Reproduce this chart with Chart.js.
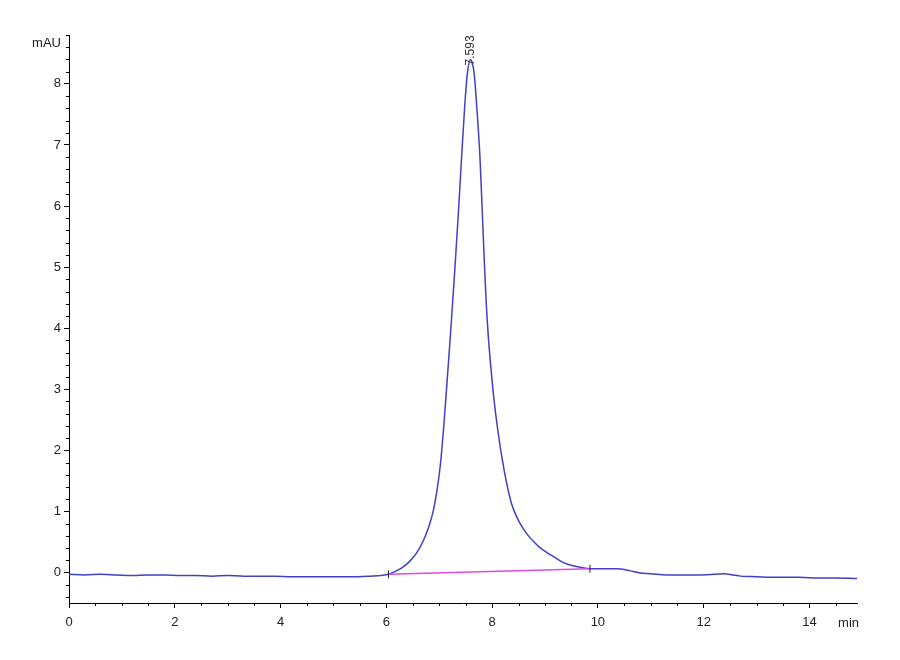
<!DOCTYPE html>
<html>
<head>
<meta charset="utf-8">
<title>Chromatogram</title>
<script src="https://cdn.jsdelivr.net/npm/chart.js@4.4.1/dist/chart.umd.min.js"></script>
<style>
    html, body { margin: 0; padding: 0; background: #fff; }
    #wrap { width: 900px; height: 660px; position: relative; }
</style>
</head>
<body>
<div id="wrap"><canvas id="chromChart"></canvas></div>
<script>
// Signal trace (min, mAU)
const times = [0.0, 0.3, 0.6, 0.9, 1.2, 1.5, 1.8, 2.1, 2.4, 2.7, 3.0, 3.3, 3.6, 3.9, 4.2, 4.5, 4.8, 5.1, 5.4, 5.7, 5.9,
    6.03, 6.15, 6.30, 6.45, 6.58, 6.70, 6.80, 6.88, 6.95, 7.00, 7.04, 7.08, 7.12, 7.16, 7.20, 7.24, 7.30, 7.36, 7.42,
    7.48, 7.53, 7.593, 7.62, 7.66, 7.71, 7.77, 7.81, 7.85, 7.89, 7.93, 7.98, 8.04, 8.11, 8.19, 8.29, 8.36, 8.42, 8.50,
    8.58, 8.67, 8.78, 8.90, 9.03, 9.18, 9.35, 9.53, 9.70, 9.85,
    10.1, 10.35, 10.6, 10.8, 11.0, 11.3, 11.6, 11.9, 12.2, 12.4, 12.55, 12.7, 13.0, 13.4, 13.8, 14.2, 14.5, 14.9];
const signal = [-0.03, -0.04, -0.03, -0.04, -0.05, -0.04, -0.04, -0.05, -0.05, -0.06, -0.05, -0.06, -0.06, -0.06, -0.07, -0.07, -0.07, -0.07, -0.07, -0.06, -0.05,
    -0.03, 0.01, 0.08, 0.19, 0.33, 0.52, 0.74, 0.98, 1.30, 1.60, 1.92, 2.32, 2.78, 3.26, 3.74, 4.24, 5.02, 5.85, 6.75,
    7.60, 8.15, 8.40, 8.36, 8.18, 7.63, 6.81, 6.00, 5.15, 4.40, 3.85, 3.33, 2.80, 2.32, 1.86, 1.40, 1.15, 1.00, 0.85,
    0.73, 0.62, 0.51, 0.41, 0.33, 0.25, 0.16, 0.11, 0.08, 0.06,
    0.06, 0.06, 0.03, -0.01, -0.02, -0.04, -0.04, -0.04, -0.03, -0.02, -0.04, -0.06, -0.07, -0.08, -0.08, -0.09, -0.09, -0.10];

// Integration baseline (start / end of peak)
const baseTimes = [6.04, 9.85];
const baseValues = [-0.03, 0.06];

// Peak annotation
const peakTime = 7.593;
const peakHeight = 8.40;
const peakLabel = '7.593';

// Axis ticks
const xTicks = [0, 2, 4, 6, 8, 10, 12, 14];
const yTicks = [0, 1, 2, 3, 4, 5, 6, 7, 8];
const xMin = 0, xMax = 14.9;
const yMin = -0.5, yMax = 8.8;

const FONT = '"Liberation Sans", Arial, sans-serif';

// Minor ticks, axis unit labels and the peak label
const extrasPlugin = {
    id: 'extras',
    afterDraw(chart) {
        const ctx = chart.ctx;
        const xs = chart.scales.x;
        const ys = chart.scales.y;
        const left = chart.chartArea.left;
        const bottom = chart.chartArea.bottom;

        ctx.save();
        ctx.strokeStyle = '#000';
        ctx.lineWidth = 1;
        ctx.beginPath();
        for (let v = 0.5; v < xMax; v += 0.5) {
            if (Math.abs(v - Math.round(v)) < 0.01 && Math.round(v) % 2 === 0) continue;
            const px = Math.round(xs.getPixelForValue(v)) + 0.5;
            ctx.moveTo(px, bottom);
            ctx.lineTo(px, bottom + 3);
        }
        for (let i = -2; i <= 44; i++) {
            if (i % 5 === 0) continue;
            const v = i * 0.2;
            const py = Math.round(ys.getPixelForValue(v)) + 0.5;
            ctx.moveTo(left, py);
            ctx.lineTo(left - 3, py);
        }
        ctx.stroke();

        ctx.fillStyle = '#222';
        ctx.font = '13px ' + FONT;
        ctx.textAlign = 'right';
        ctx.textBaseline = 'middle';
        ctx.fillText('mAU', left - 8, ys.getPixelForValue(8.67));
        ctx.textAlign = 'center';
        ctx.fillText('min', xs.getPixelForValue(14.74), bottom + 20);

        // peak retention time, rotated
        ctx.translate(xs.getPixelForValue(peakTime), ys.getPixelForValue(peakHeight) + 6);
        ctx.rotate(-Math.PI / 2);
        ctx.font = '12px ' + FONT;
        ctx.fillStyle = '#333';
        ctx.textAlign = 'left';
        ctx.fillText(peakLabel, 0, 0);
        ctx.restore();
    }
};

function buildChart() {
    const ctx = document.getElementById('chromChart').getContext('2d');
    const trace = times.map((t, i) => ({ x: t, y: signal[i] }));
    const base = baseTimes.map((t, i) => ({ x: t, y: baseValues[i] }));

    window.chromChart = new Chart(ctx, {
        type: 'scatter',
        data: {
            datasets: [{
                label: 'Baseline',
                data: base,
                showLine: true,
                borderColor: '#e04ae0',
                borderWidth: 1.6,
                pointRadius: 4,
                pointStyle: 'line',
                rotation: 90,
                pointBorderColor: '#222',
                pointBorderWidth: 1
            }, {
                label: 'Signal',
                data: trace,
                showLine: true,
                borderColor: '#4040c8',
                borderWidth: 1.5,
                pointRadius: 0,
                cubicInterpolationMode: 'monotone'
            }]
        },
        options: {
            responsive: true,
            maintainAspectRatio: false,
            animation: false,
            layout: { padding: { left: 0, top: 35, right: 43, bottom: 0 } },
            plugins: {
                legend: { display: false },
                tooltip: { enabled: false }
            },
            scales: {
                x: {
                    type: 'linear',
                    min: xMin,
                    max: xMax,
                    afterFit: scale => { scale.height = 57; },
                    afterBuildTicks: scale => { scale.ticks = xTicks.map(v => ({ value: v })); },
                    grid: { drawOnChartArea: false, color: '#000', tickLength: 5 },
                    border: { color: '#000', width: 1 },
                    ticks: { color: '#222', font: { family: FONT, size: 13 }, padding: 7, maxRotation: 0 }
                },
                y: {
                    type: 'linear',
                    min: yMin,
                    max: yMax,
                    afterFit: scale => { scale.width = 69; },
                    afterBuildTicks: scale => { scale.ticks = yTicks.map(v => ({ value: v })); },
                    grid: { drawOnChartArea: false, color: '#000', tickLength: 5 },
                    border: { color: '#000', width: 1 },
                    ticks: { color: '#222', font: { family: FONT, size: 13 }, padding: 3 }
                }
            }
        },
        plugins: [extrasPlugin]
    });
}

buildChart();
</script>
</body>
</html>
